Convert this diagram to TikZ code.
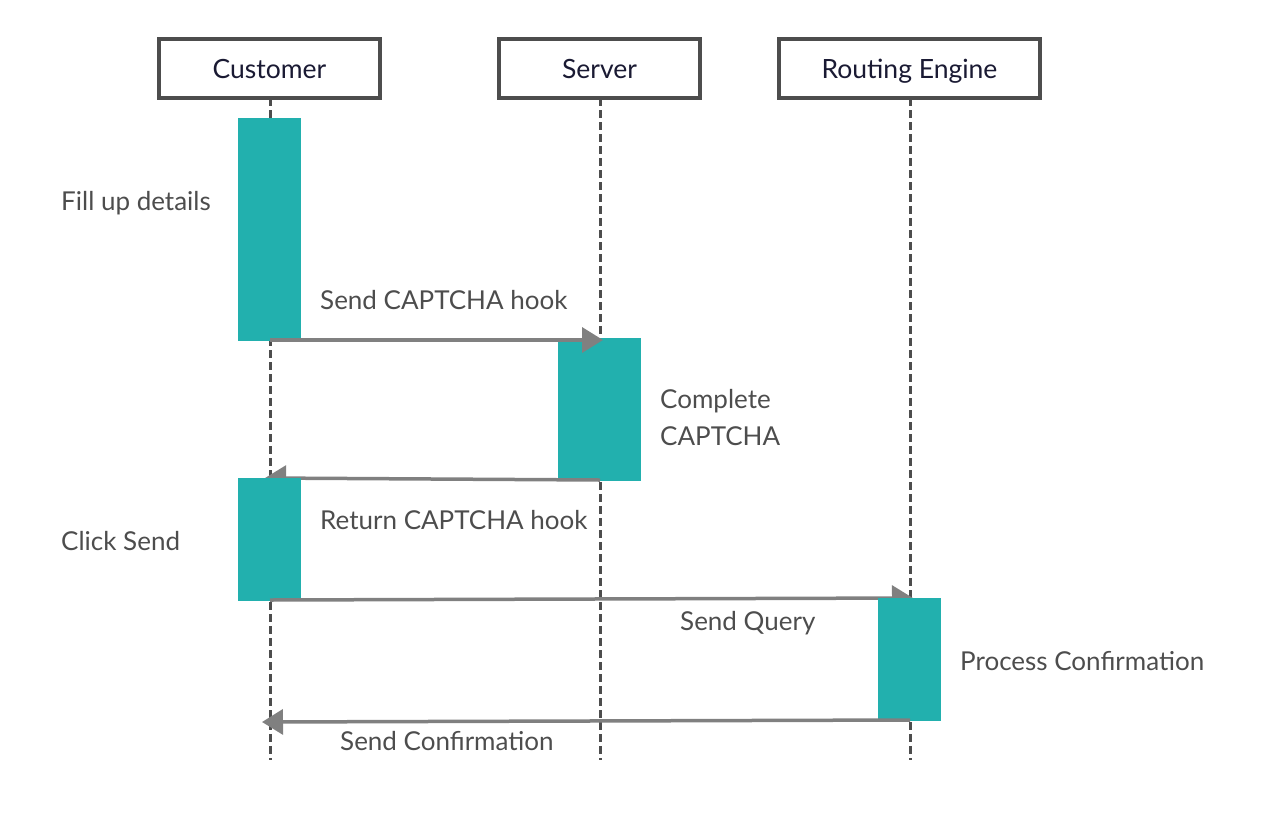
\documentclass[tikz,border=0pt]{standalone}
\usepackage{fontspec}
\setmainfont{Lato}
\usetikzlibrary{arrows.meta}
\definecolor{teal1}{HTML}{22B0AE}
\definecolor{boxline}{HTML}{4D4D4D}
\definecolor{arrowc}{HTML}{808080}
\definecolor{txt}{HTML}{4D4D4D}
\definecolor{htxt}{HTML}{1A1A33}
\begin{document}
\begin{tikzpicture}[x=1pt,y=-1pt,
  header/.style={draw=boxline,line width=3.5pt,fill=white,minimum height=59pt,inner sep=0pt,text height=19pt,text depth=0pt,font=\fontsize{26.5}{30}\selectfont,text=htxt},
  act/.style={fill=teal1,draw=none},
  life/.style={draw=boxline,line width=3pt,dash pattern=on 8pt off 4pt},
  msg/.style={draw=arrowc,line width=3.5pt,-{Triangle[length=21pt,width=25pt]}},
  lbl/.style={font=\fontsize{26}{30}\selectfont,text=txt,anchor=base west,inner sep=0pt}]
\useasboundingbox (0,0) rectangle (1280,820);
% lifelines
\coordinate (c0) at (270,98); \coordinate (c1) at (270,760);
\coordinate (s0) at (600,98); \coordinate (s1) at (600,760);
\coordinate (r0) at (910,98); \coordinate (r1) at (910,760);
\draw[life] (c0) -- (c1);
\draw[life] (s0) -- (s1);
\draw[life] (r0) -- (r1);
% headers
\node[header,minimum width=221pt] (cust) at (269.5,68.5) {Customer};
\node[header,minimum width=201pt] (serv) at (599.5,68.5) {Server};
\node[header,minimum width=261pt] (route) at (909.5,68.5) {Routing Engine};
% activations
\fill[act] (238,118) rectangle (301,341);
\fill[act] (558,338) rectangle (641,481);
% message points
\coordinate (m1a) at (270,340); \coordinate (m1b) at (603,340);
\coordinate (m2a) at (600,480); \coordinate (m2b) at (265,478);
\coordinate (m3a) at (270,600); \coordinate (m3b) at (913,598);
\coordinate (m4a) at (910,720); \coordinate (m4b) at (262,722);
\draw[msg] (m1a) -- (m1b);
\draw[msg] (m2a) -- (m2b);
\fill[act] (238,478) rectangle (301,601);
\draw[msg] (m3a) -- (m3b);
\fill[act] (878,598) rectangle (941,721);
\draw[msg] (m4a) -- (m4b);
% labels
\node[lbl] (l1) at (61,210) {Fill up details};
\node[lbl] (l2) at (320,309) {Send CAPTCHA hook};
\node[lbl] (l3) at (660,408) {Complete};
\node[lbl] (l3b) at (660,445) {CAPTCHA};
\node[lbl] (l4) at (320,529) {Return CAPTCHA hook};
\node[lbl] (l5) at (61,550) {Click Send};
\node[lbl] (l6) at (680,630) {Send Query};
\node[lbl] (l7) at (960,670) {Process Confirmation};
\node[lbl] (l8) at (340,750) {Send Confirmation};
\end{tikzpicture}
\end{document}
